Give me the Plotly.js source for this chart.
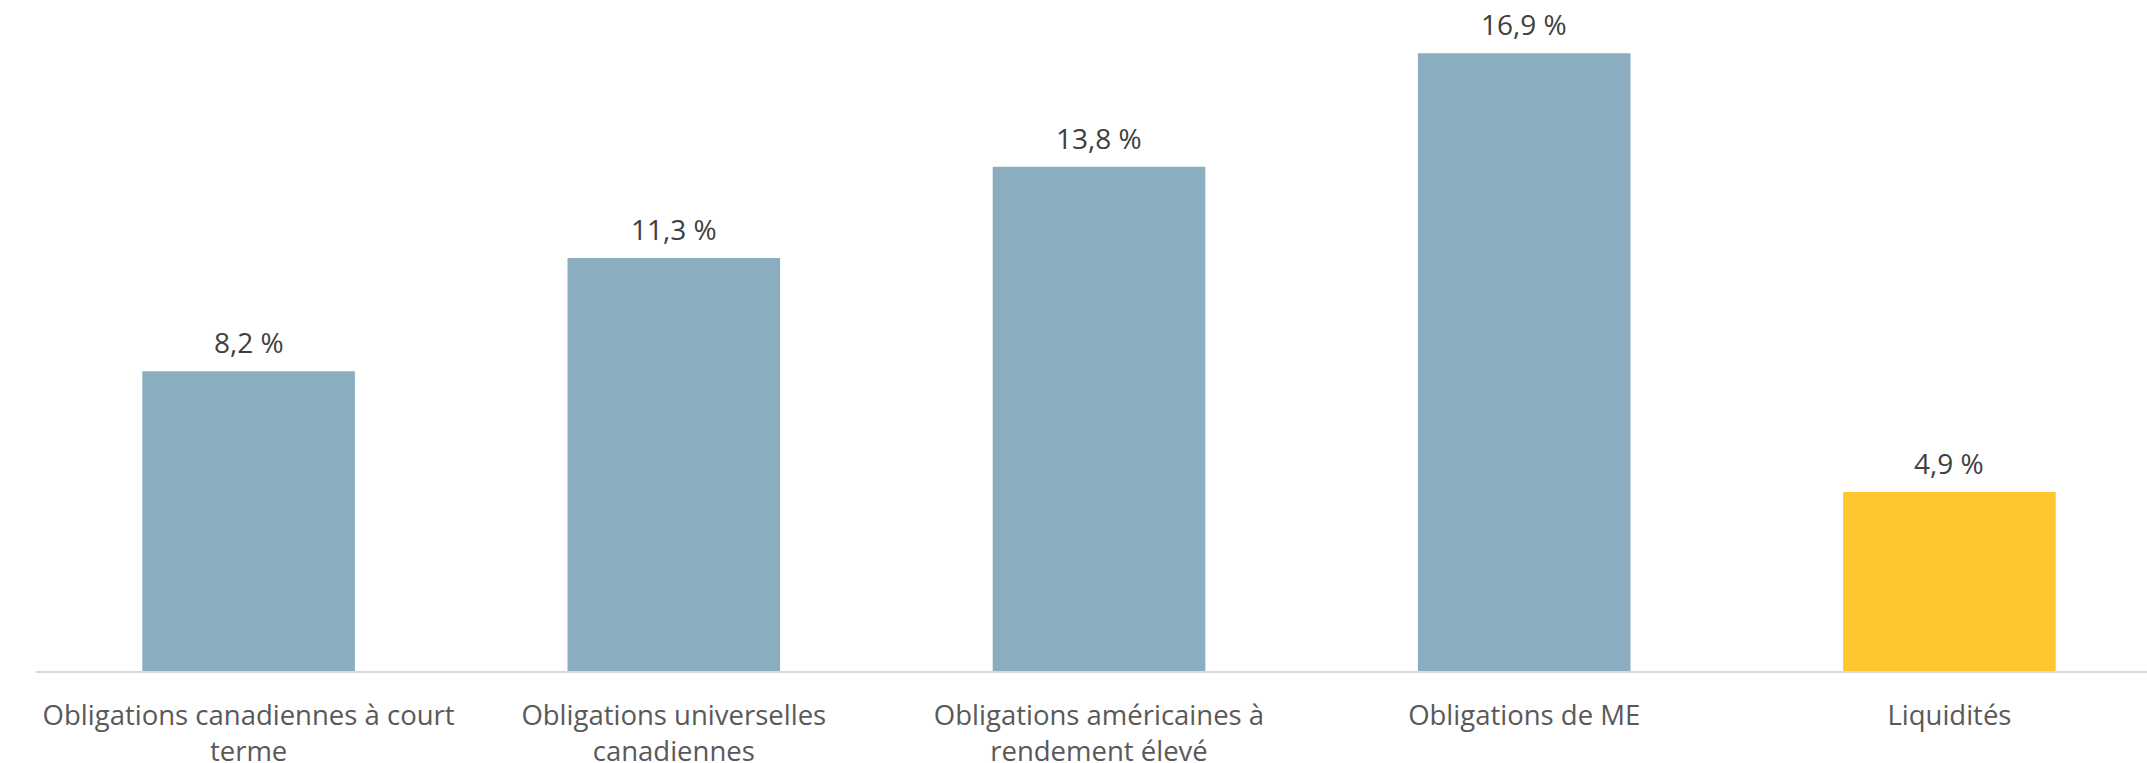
<!DOCTYPE html>
<html>
<head>
<meta charset="utf-8">
<script src="https://cdn.plot.ly/plotly-3.0.1.min.js"></script>
<style>html,body{margin:0;padding:0;background:#fff;}#chart{width:2147px;height:763px;}</style>
</head>
<body>
<div id="chart"></div>
<script>
const categories = [
  "Obligations canadiennes à court<br>terme",
  "Obligations universelles<br>canadiennes",
  "Obligations américaines à<br>rendement élevé",
  "Obligations de ME",
  "Liquidités"
];
const values = [8.2, 11.3, 13.8, 16.9, 4.9];
const barColors = ["#8AAEC0", "#8AAEC0", "#8AAEC0", "#8AAEC0", "#FFC62D"];
const labels = values.map(v => v.toFixed(1).replace('.', ',') + ' %');

const trace = {
  type: 'bar',
  x: categories,
  y: values,
  marker: {color: barColors},
  hoverinfo: 'none'
};

const annotations = categories.map((c, i) => ({
  x: c, y: values[i], xref: 'x', yref: 'y',
  text: labels[i], showarrow: false, yanchor: 'bottom', yshift: 8,
  font: {family: 'Open Sans', size: 28, color: '#404040'}
}));

const layout = {
  width: 2147, height: 763,
  margin: {l: 36, r: 0, t: 0, b: 92, pad: 0},
  paper_bgcolor: '#ffffff', plot_bgcolor: '#ffffff',
  showlegend: false,
  bargap: 0.5,
  xaxis: {
    type: 'category',
    range: [-0.5, 4.4647],
    showline: true, linecolor: '#d9d9d9', linewidth: 2,
    ticks: '', showgrid: false, zeroline: false,
    tickfont: {family: 'Open Sans', size: 27.5, color: '#595959'},
    ticklabelstandoff: 19,
    fixedrange: true
  },
  yaxis: {
    range: [0, 18.36],
    visible: false, showgrid: false, zeroline: false,
    fixedrange: true
  },
  annotations: annotations
};

Plotly.newPlot('chart', [trace], layout, {displayModeBar: false, staticPlot: true});
</script>
</body>
</html>
